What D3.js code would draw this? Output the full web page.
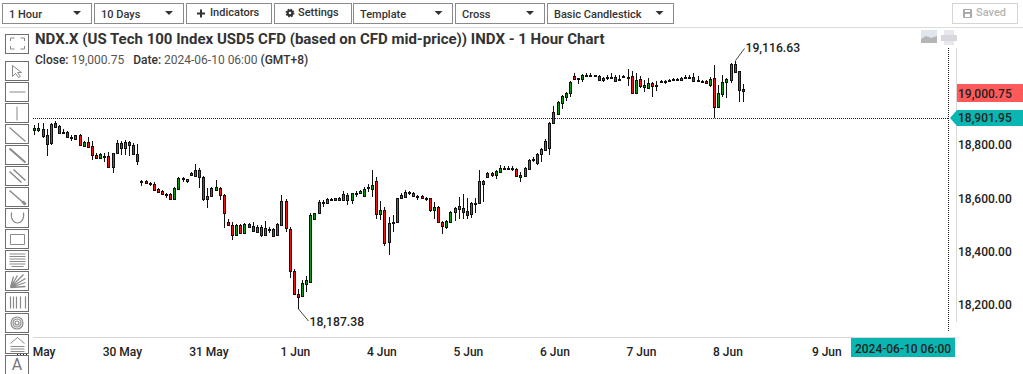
<!DOCTYPE html>
<html>
<head>
<meta charset="utf-8">
<script src="https://cdn.jsdelivr.net/npm/d3@7"></script>
<style>
  html, body { margin: 0; padding: 0; background: #fff; overflow: hidden; }
  svg { display: block; font-family: Roboto, sans-serif; }
</style>
</head>
<body>
<div id="my_dataviz"></div>
<script>
// hourly candles
var opens = [18857,18857,18859,18837,18807,18882,18872,18844,18848,18826,18824,18837,18797,18812,18797,18763,18753,18755,18758,18719,18770,18807,18788,18812,18800,18767,
  18665,18665,18655,18655,18635,18627,18615,18616,18600,18637,18672,18672,18695,18686,18707,18680,18600,18611,18632,18640,18612,18513,18503,18465,18500,18470,18504,18497,18476,18493,18465,18483,18485,18465,18501,18591,
  18485,18329,18242,18236,18281,18289,18525,18545,18583,18583,18594,18595,18596,18596,18614,18594,18619,18620,18611,18639,18637,18665,18541,18556,18437,18508,18512,18613,18605,18621,18622,18607,18609,18599,18601,18556,18570,18512,18494,18512,18549,18562,18564,18554,18541,18583,18583,18665,18680,18695,18687,18701,18713,18713,18712,18712,18682,18686,
  18712,18744,18734,18768,18781,18791,18882,18918,18959,18981,18994,19058,19046,19049,19058,19058,19059,19060,19045,19052,19054,19054,19043,19055,19054,19058,18994,19046,19019,19015,19031,19020,19035,19035,19041,19043,19043,19043,19051,19052,19054,19040,19037,19039,19026,19050,18944,18991,19036,19044,19103,19076,19010];
var highs = [18875,18882,18882,18859,18884,18890,18874,18859,18854,18837,18838,18841,18816,18829,18814,18770,18772,18772,18776,18772,18819,18817,18819,18816,18807,18804,
  18670,18670,18663,18661,18639,18632,18620,18622,18645,18680,18682,18675,18700,18730,18713,18685,18639,18645,18670,18645,18616,18524,18513,18505,18505,18510,18510,18513,18500,18500,18516,18493,18491,18508,18614,18598,
  18495,18337,18261,18296,18311,18545,18547,18595,18595,18602,18602,18603,18605,18627,18622,18622,18629,18632,18645,18655,18707,18680,18591,18570,18532,18539,18603,18620,18632,18629,18626,18615,18613,18607,18603,18587,18572,18516,18520,18554,18569,18606,18617,18601,18589,18602,18707,18670,18698,18701,18706,18725,18722,18722,18722,18715,18701,18717,
  18749,18757,18772,18791,18822,18888,18946,18966,18989,19000,19040,19069,19051,19065,19069,19069,19062,19062,19054,19064,19069,19061,19064,19062,19084,19077,19071,19059,19044,19051,19036,19039,19044,19044,19049,19050,19050,19054,19061,19062,19071,19060,19045,19043,19054,19100,19025,19062,19050,19108,19116.63,19079,19028];
var lows = [18839,18849,18827,18759,18802,18867,18844,18842,18829,18817,18823,18797,18792,18792,18744,18747,18751,18737,18715,18697,18767,18764,18763,18759,18762,18726,
  18647,18655,18648,18630,18622,18615,18601,18598,18598,18635,18662,18660,18685,18682,18641,18591,18566,18610,18630,18595,18491,18498,18445,18464,18468,18468,18489,18475,18474,18458,18463,18471,18458,18463,18498,18476,
  18302,18240,18187.38,18233,18252,18286,18523,18543,18570,18580,18591,18591,18594,18592,18576,18580,18607,18618,18610,18625,18607,18525,18520,18424,18390,18476,18508,18601,18602,18614,18607,18596,18599,18592,18551,18525,18510,18469,18486,18509,18516,18525,18525,18525,18528,18545,18580,18587,18676,18680,18675,18698,18711,18711,18703,18684,18663,18684,
  18710,18737,18727,18738,18778,18763,18879,18915,18936,18966,18979,19046,19029,19036,19055,19054,19055,19043,19036,19044,19051,19036,19039,19052,19021,18991,18991,19014,18999,19010,18981,19003,19033,19029,19036,19040,19040,19040,19046,19046,19037,19036,19033,19029,19019,18901.95,18938,18981,18976,19034,19073,18963,18963];
var closes = [18864,18863,18834,18803,18879,18869,18847,18849,18832,18832,18837,18800,18812,18794,18762,18753,18767,18759,18719,18770,18807,18788,18811,18800,18766,18742,
  18667,18657,18657,18632,18626,18618,18617,18600,18639,18676,18676,18665,18687,18707,18680,18598,18610,18640,18642,18612,18545,18503,18465,18500,18470,18505,18495,18478,18493,18465,18489,18485,18461,18504,18591,18489,
  18329,18242,18233,18283,18296,18539,18545,18586,18586,18598,18600,18601,18602,18617,18594,18620,18622,18629,18637,18642,18651,18541,18556,18433,18508,18512,18601,18604,18624,18624,18609,18610,18601,18601,18556,18570,18512,18497,18515,18549,18564,18571,18551,18540,18583,18585,18665,18654,18695,18687,18702,18713,18716,18716,18715,18686,18687,18713,
  18744,18748,18766,18785,18816,18882,18923,18963,18984,18994,19035,19049,19050,19061,19061,19061,19061,19045,19052,19055,19056,19041,19046,19059,19056,18994,19043,19022,19025,19031,19022,19025,19040,19040,19044,19046,19046,19050,19055,19055,19041,19044,19040,19031,19049,18944,18994,19035,19046,19103,19075,19007,19000.75];

var yTicks = [18200, 18400, 18600, 18800];
var xTickSlots = [2, 21, 42, 63, 84, 105, 126, 147, 168, 192];
var xTickLabels = ["May", "30 May", "31 May", "1 Jun", "4 Jun", "5 Jun", "6 Jun", "7 Jun", "8 Jun", "9 Jun"];

var lastClose = 19000.75;
var lineValue = 18901.95;
var highNote = { slot: 170, value: 19116.63, text: "19,116.63" };
var lowNote = { slot: 64, value: 18187.38, text: "18,187.38" };

var dropdowns = [
  { label: "1 Hour", x: 2.5, w: 88.5 },
  { label: "10 Days", x: 94.5, w: 88.5 },
  { label: "Template", x: 353.5, w: 99 },
  { label: "Cross", x: 455.5, w: 88.5 },
  { label: "Basic Candlestick", x: 547.5, w: 126 }
];

var width = 1023, height = 374;

var svg = d3.select("#my_dataviz")
  .append("svg")
  .attr("width", width)
  .attr("height", height);

// scales
var x = d3.scaleLinear().domain([0, 192]).range([34.3, 825.3]);
var y = d3.scaleLinear().domain([18187.38, 19116.63]).range([309, 60.5]);

function px(v) { return Math.round(v) + 0.5; }

// top toolbar
var toolbar = svg.append("g").attr("shape-rendering", "crispEdges");
toolbar.append("line").attr("x1", 0).attr("x2", width).attr("y1", 27.5).attr("y2", 27.5).attr("stroke", "#dcdcdc");

function button(g, bx, bw, stroke) {
  g.append("rect").attr("x", bx).attr("y", 3.5).attr("width", bw).attr("height", 20)
    .attr("fill", "#fff").attr("stroke", stroke || "#8a8a8a");
}

dropdowns.forEach(function (d) {
  button(toolbar, d.x, d.w);
  svg.append("text").attr("x", d.x + 6.5).attr("y", 17.5)
    .attr("font-size", 11).attr("font-weight", 500).attr("fill", "#333").text(d.label);
  var ax = d.x + d.w - 14;
  svg.append("path").attr("d", "M" + (ax - 4) + ",11 h8 l-4,4 z").attr("fill", "#333");
});

button(toolbar, 186.5, 85);
button(toolbar, 274.5, 77);
button(toolbar, 952.5, 65, "#d5d5d5");

svg.append("path").attr("d", "M201,9.5 v8 M197,13.5 h8").attr("stroke", "#333").attr("stroke-width", 2).attr("fill", "none");
svg.append("text").attr("x", 210).attr("y", 16).attr("font-size", 11).attr("font-weight", 500).attr("fill", "#333").text("Indicators");

// gear
svg.append("circle").attr("cx", 290).attr("cy", 13).attr("r", 2.4).attr("fill", "none").attr("stroke", "#333").attr("stroke-width", 2.2);
svg.append("circle").attr("cx", 290).attr("cy", 13).attr("r", 3.8).attr("fill", "none").attr("stroke", "#333").attr("stroke-width", 1.2).attr("stroke-dasharray", "1.6 1.4");
svg.append("text").attr("x", 298).attr("y", 16).attr("font-size", 11).attr("font-weight", 500).attr("fill", "#333").text("Settings");

// floppy
svg.append("rect").attr("x", 963).attr("y", 9).attr("width", 9).attr("height", 9).attr("rx", 1).attr("fill", "#aaa");
svg.append("rect").attr("x", 965).attr("y", 10).attr("width", 5).attr("height", 2).attr("fill", "#fff");
svg.append("rect").attr("x", 965).attr("y", 14).attr("width", 5).attr("height", 3).attr("fill", "#fff");
svg.append("text").attr("x", 976).attr("y", 16).attr("font-size", 11).attr("font-weight", 500).attr("fill", "#b5b5b5").text("Saved");

// title
svg.append("text").attr("x", 35).attr("y", 44)
  .attr("font-size", 15).attr("font-weight", 700).attr("fill", "#333")
  .text("NDX.X (US Tech 100 Index USD5 CFD (based on CFD mid-price)) INDX - 1 Hour Chart");

var sub = svg.append("text").attr("x", 35).attr("y", 64).attr("font-size", 12).attr("fill", "#333");
sub.append("tspan").attr("font-weight", 500).text("Close: ");
sub.append("tspan").attr("fill", "#555").text("19,000.75");
sub.append("tspan").attr("dx", 9).attr("font-weight", 500).text("Date: ");
sub.append("tspan").attr("fill", "#555").text("2024-06-10 06:00");
sub.append("tspan").attr("dx", 3).attr("font-weight", 500).text("(GMT+8)");

// left drawing tools
var tools = svg.append("g").attr("fill", "none").attr("stroke", "#808080").attr("stroke-width", 1);
var toolY = [34, 61.5, 82.5, 103.5, 124.5, 145.5, 166.5, 187.5, 208.5, 229.5, 250.5, 271.5, 292.5, 313.5, 334.5, 355.5];
toolY.forEach(function (ty) {
  tools.append("rect").attr("x", 5.5).attr("y", ty).attr("width", 23).attr("height", 19)
    .attr("fill", "#fff").attr("stroke", "#6e6e6e").attr("shape-rendering", "crispEdges");
});
function icon(i, d, w, col) {
  tools.append("path").attr("transform", "translate(5.5," + toolY[i] + ")").attr("d", d)
    .attr("stroke-width", w || 1).attr("stroke", col || "#8a8a8a");
}
icon(0, "M5,7 V4 H9 M15,4 H19 V7 M5,12 V15 H9 M15,15 H19 V12");
icon(1, "M7,4 L7,15 L10,12 L13,16 L15,15 L12,11 L16,11 Z");
icon(2, "M4,9.5 H20");
icon(3, "M11.5,3 V17");
icon(4, "M4,3 L20,17", 1.2);
icon(5, "M4,3 L20,17", 2);
icon(6, "M4,5 L16,16 M8,3 L20,14", 1.5);
icon(7, "M4,3 L20,17", 1.5);
icon(7, "M17,14 L20,17", 3);
icon(8, "M6,4 C4,18 20,18 18,4", 1.2);
icon(9, "M5,5 H19 V15 H5 Z");
icon(10, "M4,3.5 H20 M4,6 H20 M4,8.5 H20 M4,11 H20 M4,13.5 H20 M6,16 H18", 1);
icon(11, "M5,16 L18,3 M5,16 L20,7 M5,16 L20,11 M5,16 L20,15 M5,16 L12,4 M5,16 L8,5", 1.3);
icon(12, "M5,4 V16 M8,4 V16 M11,4 V16 M15,4 V16 M20,4 V16", 1.2);
icon(13, "M17.5,9.5 a6,6 0 1,1 -12,0 a6,6 0 1,1 12,0 M15.5,9.5 a4,4 0 1,1 -8,0 a4,4 0 1,1 8,0 M13.5,9.5 a2,2 0 1,1 -4,0 a2,2 0 1,1 4,0", 1.2);
icon(14, "M5,9 L12,3 L19,9 M5,12 H19 M5,14.5 H19 M5,17 H19", 1);

svg.append("text").attr("x", 17).attr("y", 370).attr("text-anchor", "middle")
  .attr("font-size", 16).attr("fill", "#777").text("A");

// chart frame
var frame = svg.append("g").attr("shape-rendering", "crispEdges");
frame.append("line").attr("x1", 33).attr("x2", 956).attr("y1", 337.5).attr("y2", 337.5).attr("stroke", "#d8d8d8");
frame.append("line").attr("x1", 956.5).attr("x2", 956.5).attr("y1", 48).attr("y2", 322).attr("stroke", "#d8d8d8");
frame.append("line").attr("x1", 948.5).attr("x2", 948.5).attr("y1", 48).attr("y2", 331)
  .attr("stroke", "#222").attr("stroke-dasharray", "1 1");
frame.append("line").attr("x1", 33).attr("x2", 949).attr("y1", px(y(lineValue))).attr("y2", px(y(lineValue)))
  .attr("stroke", "#222").attr("stroke-dasharray", "1 1");
frame.append("line").attr("x1", 17).attr("x2", 29).attr("y1", 354.5).attr("y2", 354.5)
  .attr("stroke", "#222").attr("stroke-dasharray", "1 2");

// axes
var yAxis = svg.append("g").attr("transform", "translate(958,-0.5)")
  .call(d3.axisRight(y).tickValues(yTicks).tickSize(0).tickPadding(0).tickFormat(d3.format(",.2f")));
var xAxis = svg.append("g").attr("transform", "translate(1,338)")
  .call(d3.axisBottom(x).tickValues(xTickSlots).tickSize(0).tickPadding(9).tickFormat(function (d, i) { return xTickLabels[i]; }));
[yAxis, xAxis].forEach(function (a) {
  a.select(".domain").remove();
  a.selectAll("text").attr("font-family", "Roboto, sans-serif").attr("font-size", 12)
    .attr("font-weight", 500).attr("fill", "#222");
});

// candles
var candles = svg.append("g").selectAll("g")
  .data(opens.map(function (o, i) { return { i: i, open: o, high: highs[i], low: lows[i], close: closes[i] }; }))
  .enter().append("g")
  .attr("shape-rendering", "crispEdges");

candles.append("line")
  .attr("x1", function (d) { return px(x(d.i)); })
  .attr("x2", function (d) { return px(x(d.i)); })
  .attr("y1", function (d) { return Math.round(y(d.high)); })
  .attr("y2", function (d) { return Math.round(y(d.low)); })
  .attr("stroke", "#111");

candles.append("rect")
  .attr("x", function (d) { return px(x(d.i)) - 1; })
  .attr("y", function (d) { return px(y(Math.max(d.open, d.close))); })
  .attr("width", 2)
  .attr("height", function (d) { return Math.max(1, Math.round(y(Math.min(d.open, d.close))) - Math.round(y(Math.max(d.open, d.close)))); })
  .attr("fill", function (d) { return d.close >= d.open ? "#0a9a14" : "#f01414"; })
  .attr("stroke", "#111");

// high and low callouts
var hx = px(x(highNote.slot)), hy = y(highNote.value);
svg.append("path").attr("d", "M" + hx + "," + hy + " L" + (hx + 9) + "," + (hy - 12))
  .attr("fill", "none").attr("stroke", "#444");
svg.append("text").attr("x", hx + 10).attr("y", hy - 8.5).attr("font-size", 12.2).attr("font-weight", 500).attr("fill", "#222").text(highNote.text);

var lx = px(x(lowNote.slot)), ly = y(lowNote.value);
svg.append("path").attr("d", "M" + lx + "," + ly + " L" + (lx + 10) + "," + (ly + 12))
  .attr("fill", "none").attr("stroke", "#444");
svg.append("text").attr("x", lx + 11).attr("y", ly + 17).attr("font-size", 12.2).attr("font-weight", 500).attr("fill", "#222").text(lowNote.text);

// price tags
svg.append("rect").attr("x", 957).attr("y", 84).attr("width", 66).attr("height", 18).attr("fill", "#ff5a5a");
svg.append("text").attr("x", 958).attr("y", 98).attr("font-size", 12).attr("font-weight", 500).attr("fill", "#222")
  .text(d3.format(",.2f")(lastClose));

var tagY = y(lineValue);
svg.append("path").attr("d", "M950," + tagY + " L957," + (tagY - 8) + " H1023 V" + (tagY + 8) + " H957 Z").attr("fill", "#09b6b2");
svg.append("text").attr("x", 958).attr("y", tagY + 4.5).attr("font-size", 12).attr("font-weight", 500).attr("fill", "#222")
  .text(d3.format(",.2f")(lineValue));

svg.append("rect").attr("x", 851).attr("y", 338).attr("width", 104).attr("height", 19).attr("fill", "#09b6b2");
svg.append("text").attr("x", 903).attr("y", 352.5).attr("text-anchor", "middle").attr("font-size", 12).attr("font-weight", 500).attr("fill", "#222")
  .text("2024-06-10 06:00");

// export icons, barely visible
svg.append("rect").attr("x", 921).attr("y", 30).attr("width", 16).attr("height", 13).attr("fill", "#dfe6ec");
svg.append("path").attr("d", "M921,43 V39 L926,36 L931,38 L937,36 V43 Z").attr("fill", "#b5b5b5");
svg.append("rect").attr("x", 944).attr("y", 30).attr("width", 10).attr("height", 5).attr("fill", "#e6e8ee");
svg.append("rect").attr("x", 941).attr("y", 35).attr("width", 16).attr("height", 6).attr("fill", "#d8d8dc");
svg.append("rect").attr("x", 944).attr("y", 41).attr("width", 10).attr("height", 4).attr("fill", "#e6e8ee");
</script>
</body>
</html>
